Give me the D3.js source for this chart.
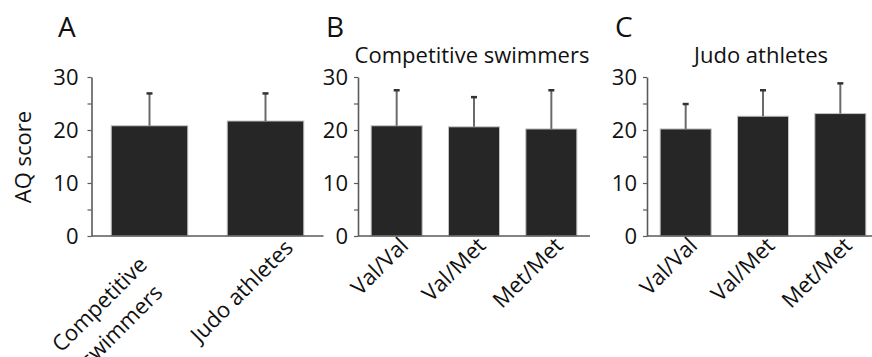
<!DOCTYPE html>
<html>
<head>
<meta charset="utf-8">
<script src="https://cdn.jsdelivr.net/npm/d3@7"></script>
<style>
  body { margin: 0; background: #fff; }
  svg { display: block; }
  text { font-family: "Open Sans", Lato, sans-serif; fill: #111; font-variant-ligatures: none; }
</style>
</head>
<body>
<svg id="chart" width="872" height="357"></svg>
<script>
// ---- data ----
const panelLetters = ["A", "B", "C"];
const panelTitles = ["", "Competitive swimmers", "Judo athletes"];

const groupLabels = [["Competitive", "swimmers"], ["Judo athletes"]];
const groupMeans = [20.8, 21.7];
const groupSD = [6.1, 5.2];

const genotypeLabels = [["Val/Val"], ["Val/Met"], ["Met/Met"]];
const swimmerMeans = [20.8, 20.6, 20.2];
const swimmerSD = [6.7, 5.6, 7.3];
const judoMeans = [20.2, 22.6, 23.1];
const judoSD = [4.7, 4.9, 5.7];

const yMajorTicks = [0, 10, 20, 30];
const yAllTicks = [0, 5, 10, 15, 20, 25, 30];
const yLabel = "AQ score";

// ---- layout ----
const svg = d3.select("#chart");
const font = "'Open Sans', Lato, sans-serif";
const fs = 22;
const plotW = 232;
const yTop = 77, yBottom = 236;

const panels = [
  { x0: 91.5, labels: groupLabels, means: groupMeans, sd: groupSD, tickPad: 9, lx: 29, ly: 13 },
  { x0: 358, labels: genotypeLabels, means: swimmerMeans, sd: swimmerSD, tickPad: 6, lx: 13, ly: 11 },
  { x0: 647, labels: genotypeLabels, means: judoMeans, sd: judoSD, tickPad: 6, lx: 13, ly: 11 }
];
const letterX = [58, 326, 615];

const y = d3.scaleLinear().domain([0, 30]).range([yBottom, yTop]);

panels.forEach((p, i) => {
  const names = p.labels.map(l => l.join(" "));
  const x = d3.scaleBand().domain(names).range([p.x0, p.x0 + plotW])
    .paddingInner(0.34).paddingOuter(0.17);

  const g = svg.append("g");

  // bars
  g.selectAll("rect.bar").data(p.means).join("rect")
    .attr("class", "bar")
    .attr("x", (d, j) => x(names[j]))
    .attr("width", x.bandwidth())
    .attr("y", d => y(d))
    .attr("height", d => y(0) - y(d))
    .attr("fill", "#262626")
    .attr("stroke", "#c4c4c4")
    .attr("stroke-width", 1);

  // upper error bars
  const cx = j => x(names[j]) + x.bandwidth() / 2;
  g.selectAll("line.err").data(p.means).join("line")
    .attr("class", "err")
    .attr("x1", (d, j) => cx(j)).attr("x2", (d, j) => cx(j))
    .attr("y1", d => y(d)).attr("y2", (d, j) => y(d + p.sd[j]))
    .attr("stroke", "#6a6a6a").attr("stroke-width", 2);
  g.selectAll("line.cap").data(p.means).join("line")
    .attr("class", "cap")
    .attr("x1", (d, j) => cx(j) - 3).attr("x2", (d, j) => cx(j) + 3)
    .attr("y1", (d, j) => y(d + p.sd[j])).attr("y2", (d, j) => y(d + p.sd[j]))
    .attr("stroke", "#333").attr("stroke-width", 2.5);

  // y axis
  const yAxis = d3.axisLeft(y).tickValues(yAllTicks).tickSize(4).tickSizeOuter(0)
    .tickPadding(p.tickPad)
    .tickFormat(v => yMajorTicks.includes(v) ? d3.format("d")(v) : "");
  const ya = g.append("g").attr("transform", `translate(${p.x0},0)`).call(yAxis);
  ya.select(".domain").attr("stroke", "#5a5a5a").attr("stroke-width", 1.6);
  ya.selectAll(".tick line").attr("stroke", "#5a5a5a").attr("stroke-width", 1.2);
  ya.selectAll(".tick text").attr("font-size", fs).attr("fill", "#111")
    .attr("font-family", font);

  // x axis baseline
  g.append("line")
    .attr("x1", p.x0).attr("x2", p.x0 + plotW)
    .attr("y1", y(0)).attr("y2", y(0))
    .attr("stroke", "#5a5a5a").attr("stroke-width", 1.6);

  // rotated category labels
  p.labels.forEach((lines, j) => {
    const t = g.append("text")
      .attr("transform", `translate(${cx(j) + p.lx},${y(0) + p.ly}) rotate(-45)`)
      .attr("font-size", fs);
    lines.forEach((ln, k) => {
      t.append("tspan").attr("x", 0).attr("dy", k === 0 ? 0 : "1.4em").text(ln);
    });
    if (lines.length > 1) {
      // multi-line label: lines centred on the widest one
      const spans = t.selectAll("tspan").nodes();
      const w = d3.max(spans, s => s.getComputedTextLength());
      t.attr("text-anchor", "middle");
      spans.forEach(s => d3.select(s).attr("x", -w / 2));
      t.attr("transform", `translate(${cx(j) + p.lx - 30},${y(0) + p.ly + 17}) rotate(-45)`);
    } else {
      t.attr("text-anchor", "end");
    }
  });

  // panel title
  if (panelTitles[i]) {
    g.append("text")
      .attr("x", p.x0 + plotW / 2 - 2).attr("y", 63)
      .attr("text-anchor", "middle")
      .attr("font-size", fs)
      .text(panelTitles[i]);
  }

  // panel letter
  svg.append("text")
    .attr("x", letterX[i]).attr("y", 37)
    .attr("font-size", 28)
    .text(panelLetters[i]);
});

// y axis title
svg.append("text")
  .attr("transform", `translate(31,157) rotate(-90)`)
  .attr("text-anchor", "middle")
  .attr("font-size", fs)
  .text(yLabel);
</script>
</body>
</html>
